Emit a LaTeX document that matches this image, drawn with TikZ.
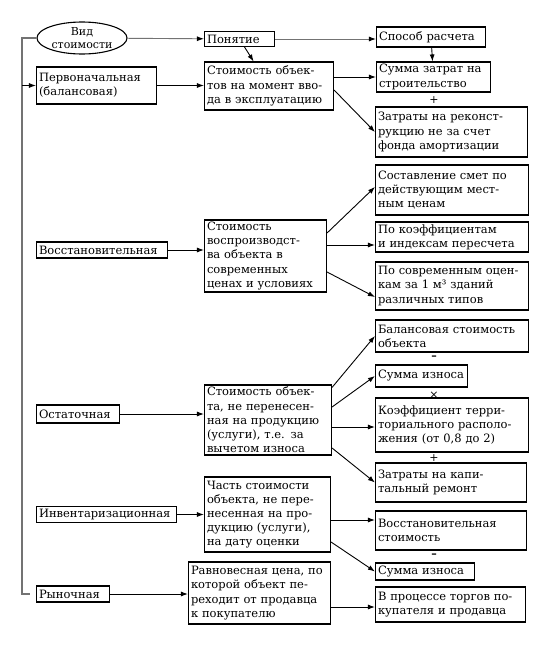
\documentclass[tikz,border=0pt]{standalone}
\usepackage{fontspec}
\setmainfont{DejaVu Serif}
\usetikzlibrary{arrows.meta, shapes.geometric}

\begin{document}
\begin{tikzpicture}[x=1pt, y=-1pt,
    box/.style={rectangle, draw=black, line width=1.1pt, align=left, inner xsep=2.5pt, inner ysep=1pt, font=\fontsize{11.5}{14.2}\selectfont},
    msg/.style={-{Latex[length=7pt, width=5pt, color=black]}, line width=0.9pt},
    gmsg/.style={msg, draw=black!55},
    trunk/.style={line width=1.1pt, draw=black!55},
    op/.style={font=\fontsize{11}{12}\selectfont, inner sep=0pt}]
\useasboundingbox (0,0) rectangle (554,645);
% head
\node[ellipse, draw, line width=1.1pt, minimum width=90pt, minimum height=32pt, inner sep=0pt, align=center, font=\fontsize{11}{13}\selectfont] (ell) at (82,38) {Вид\\стоимости};
\node[box, text width=65pt, minimum height=15pt] (poni) at (239.5,39) {Понятие};
\node[box, text width=104pt, minimum height=20pt] (sposob) at (431,37) {Способ расчета};
\coordinate (tb) at (22,594);
% original value
\node[box, text width=115pt, minimum height=37pt] (perv) at (96.5,85.5) {Первоначальная\\(балансовая)};
\node[box, text width=124pt, minimum height=48pt] (def1) at (269,86) {Стоимость объек-\\тов на момент вво-\\да в эксплуатацию};
\node[box, text width=109pt, minimum height=30pt] (sum1) at (433.5,77) {Сумма затрат на\\строительство};
\node[op] (plus1) at (434,100) {+};
\node[box, text width=147pt, minimum height=50pt] (recon) at (451.5,132) {Затраты на реконст-\\рукцию не за счет\\фонда амортизации};
% replacement value
\node[box, text width=126pt, minimum height=16pt] (vos) at (102,250) {Восстановительная};
\node[box, text width=117pt, minimum height=72pt] (vos2) at (265.5,256) {Стоимость\\воспроизводст-\\ва объекта в\\современных\\ценах и условиях};
\node[box, text width=148pt, minimum height=50pt] (smeta) at (452,190) {Составление смет по\\действующим мест-\\ным ценам};
\node[box, text width=148pt, minimum height=30pt] (pk) at (452,237) {По коэффициентам\\и индексам пересчета};
\node[box, text width=148pt, minimum height=48pt] (sovr) at (452,286) {По современным оцен-\\кам за 1 м³ зданий\\различных типов};
% residual value
\node[box, text width=78pt, minimum height=18pt] (ost) at (78,414) {Остаточная};
\node[box, text width=122pt, minimum height=70pt] (ost2) at (268,420) {Стоимость объек-\\та, не перенесен-\\ная на продукцию\\(услуги), т.е. за\\вычетом износа};
\node[box, text width=148pt, minimum height=32pt] (bal) at (452,336) {Балансовая стоимость\\объекта};
\node[op] (minus1) at (434,358) {\textbf{–}};
\node[box, text width=87pt, minimum height=22pt] (izn1) at (421.5,376) {Сумма износа};
\node[op] (times1) at (434,395) {×};
\node[box, text width=148pt, minimum height=54pt] (koef) at (452,425) {Коэффициент терри-\\ториального располо-\\жения (от 0,8 до 2)};
\node[op] (plus2) at (434,458) {+};
\node[box, text width=146pt, minimum height=39pt] (kap) at (451,482.5) {Затраты на капи-\\тальный ремонт};
% inventory value
\node[box, text width=135pt, minimum height=16pt] (inv) at (106.5,514.5) {Инвентаризационная};
\node[box, text width=121pt, minimum height=75pt] (inv2) at (267.5,514.5) {Часть стоимости\\объекта, не пере-\\несенная на про-\\дукцию (услуги),\\на дату оценки};
\node[box, text width=146pt, minimum height=39pt] (vst) at (451,530.5) {Восстановительная\\стоимость};
\node[op] (minus2) at (434,556) {\textbf{–}};
\node[box, text width=94pt, minimum height=17pt] (izn2) at (425,571.5) {Сумма износа};
% market value
\node[box, text width=68pt, minimum height=16pt] (ryn) at (73,594) {Рыночная};
\node[box, text width=137pt, minimum height=62pt] (rav) at (259.5,593) {Равновесная цена, по\\которой объект пе-\\реходит от продавца\\к покупателю};
\node[box, text width=145pt, minimum height=35pt] (torg) at (450.5,604.5) {В процессе торгов по-\\купателя и продавца};
% connectors
\draw[trunk] (ell.west) -| (tb) -- ([xshift=-6pt]ryn.west);
\draw[gmsg] (ell) -- (poni);
\draw[gmsg] (poni) -- (poni -| sposob.west);
\draw[msg] (poni) -- (def1);
\draw[msg] (sposob) -- (sum1);
\draw[msg] (perv.west -| tb) -- (perv.west);
\draw[msg] (perv) -- (perv -| def1.west);
\draw[msg] (def1.east |- sum1.west) -- (sum1.west);
\draw[msg] ([yshift=-4pt]def1.east) -- (recon.west);
\draw[msg] (vos) -- (vos -| vos2.west);
\draw[msg] ([yshift=23pt]vos2.east) -- ([yshift=3pt]smeta.west);
\draw[msg] ([yshift=11pt]vos2.east) -- ([yshift=11pt]vos2.east -| pk.west);
\draw[msg] ([yshift=-16pt]vos2.east) -- ([yshift=-11pt]sovr.west);
\draw[msg] (ost) -- (ost -| ost2.west);
\draw[msg] ([yshift=-3pt]ost2.north east) -- (bal.west);
\draw[msg] ([yshift=13pt]ost2.east) -- (izn1.west);
\draw[msg] ([yshift=-7pt]ost2.east) -- ([yshift=-7pt]ost2.east -| koef.west);
\draw[msg] ([yshift=-28pt]ost2.east) -- (kap.west);
\draw[msg] (inv) -- (inv -| inv2.west);
\draw[msg] ([yshift=-5.5pt]inv2.east) -- ([yshift=-5.5pt]inv2.east -| vst.west);
\draw[msg] ([yshift=-27.5pt]inv2.east) -- (izn2.west);
\draw[msg] (ryn) -- (ryn -| rav.west);
\draw[msg] ([yshift=-14pt]rav.east) -- ([yshift=-14pt]rav.east -| torg.west);
\end{tikzpicture}
\end{document}
